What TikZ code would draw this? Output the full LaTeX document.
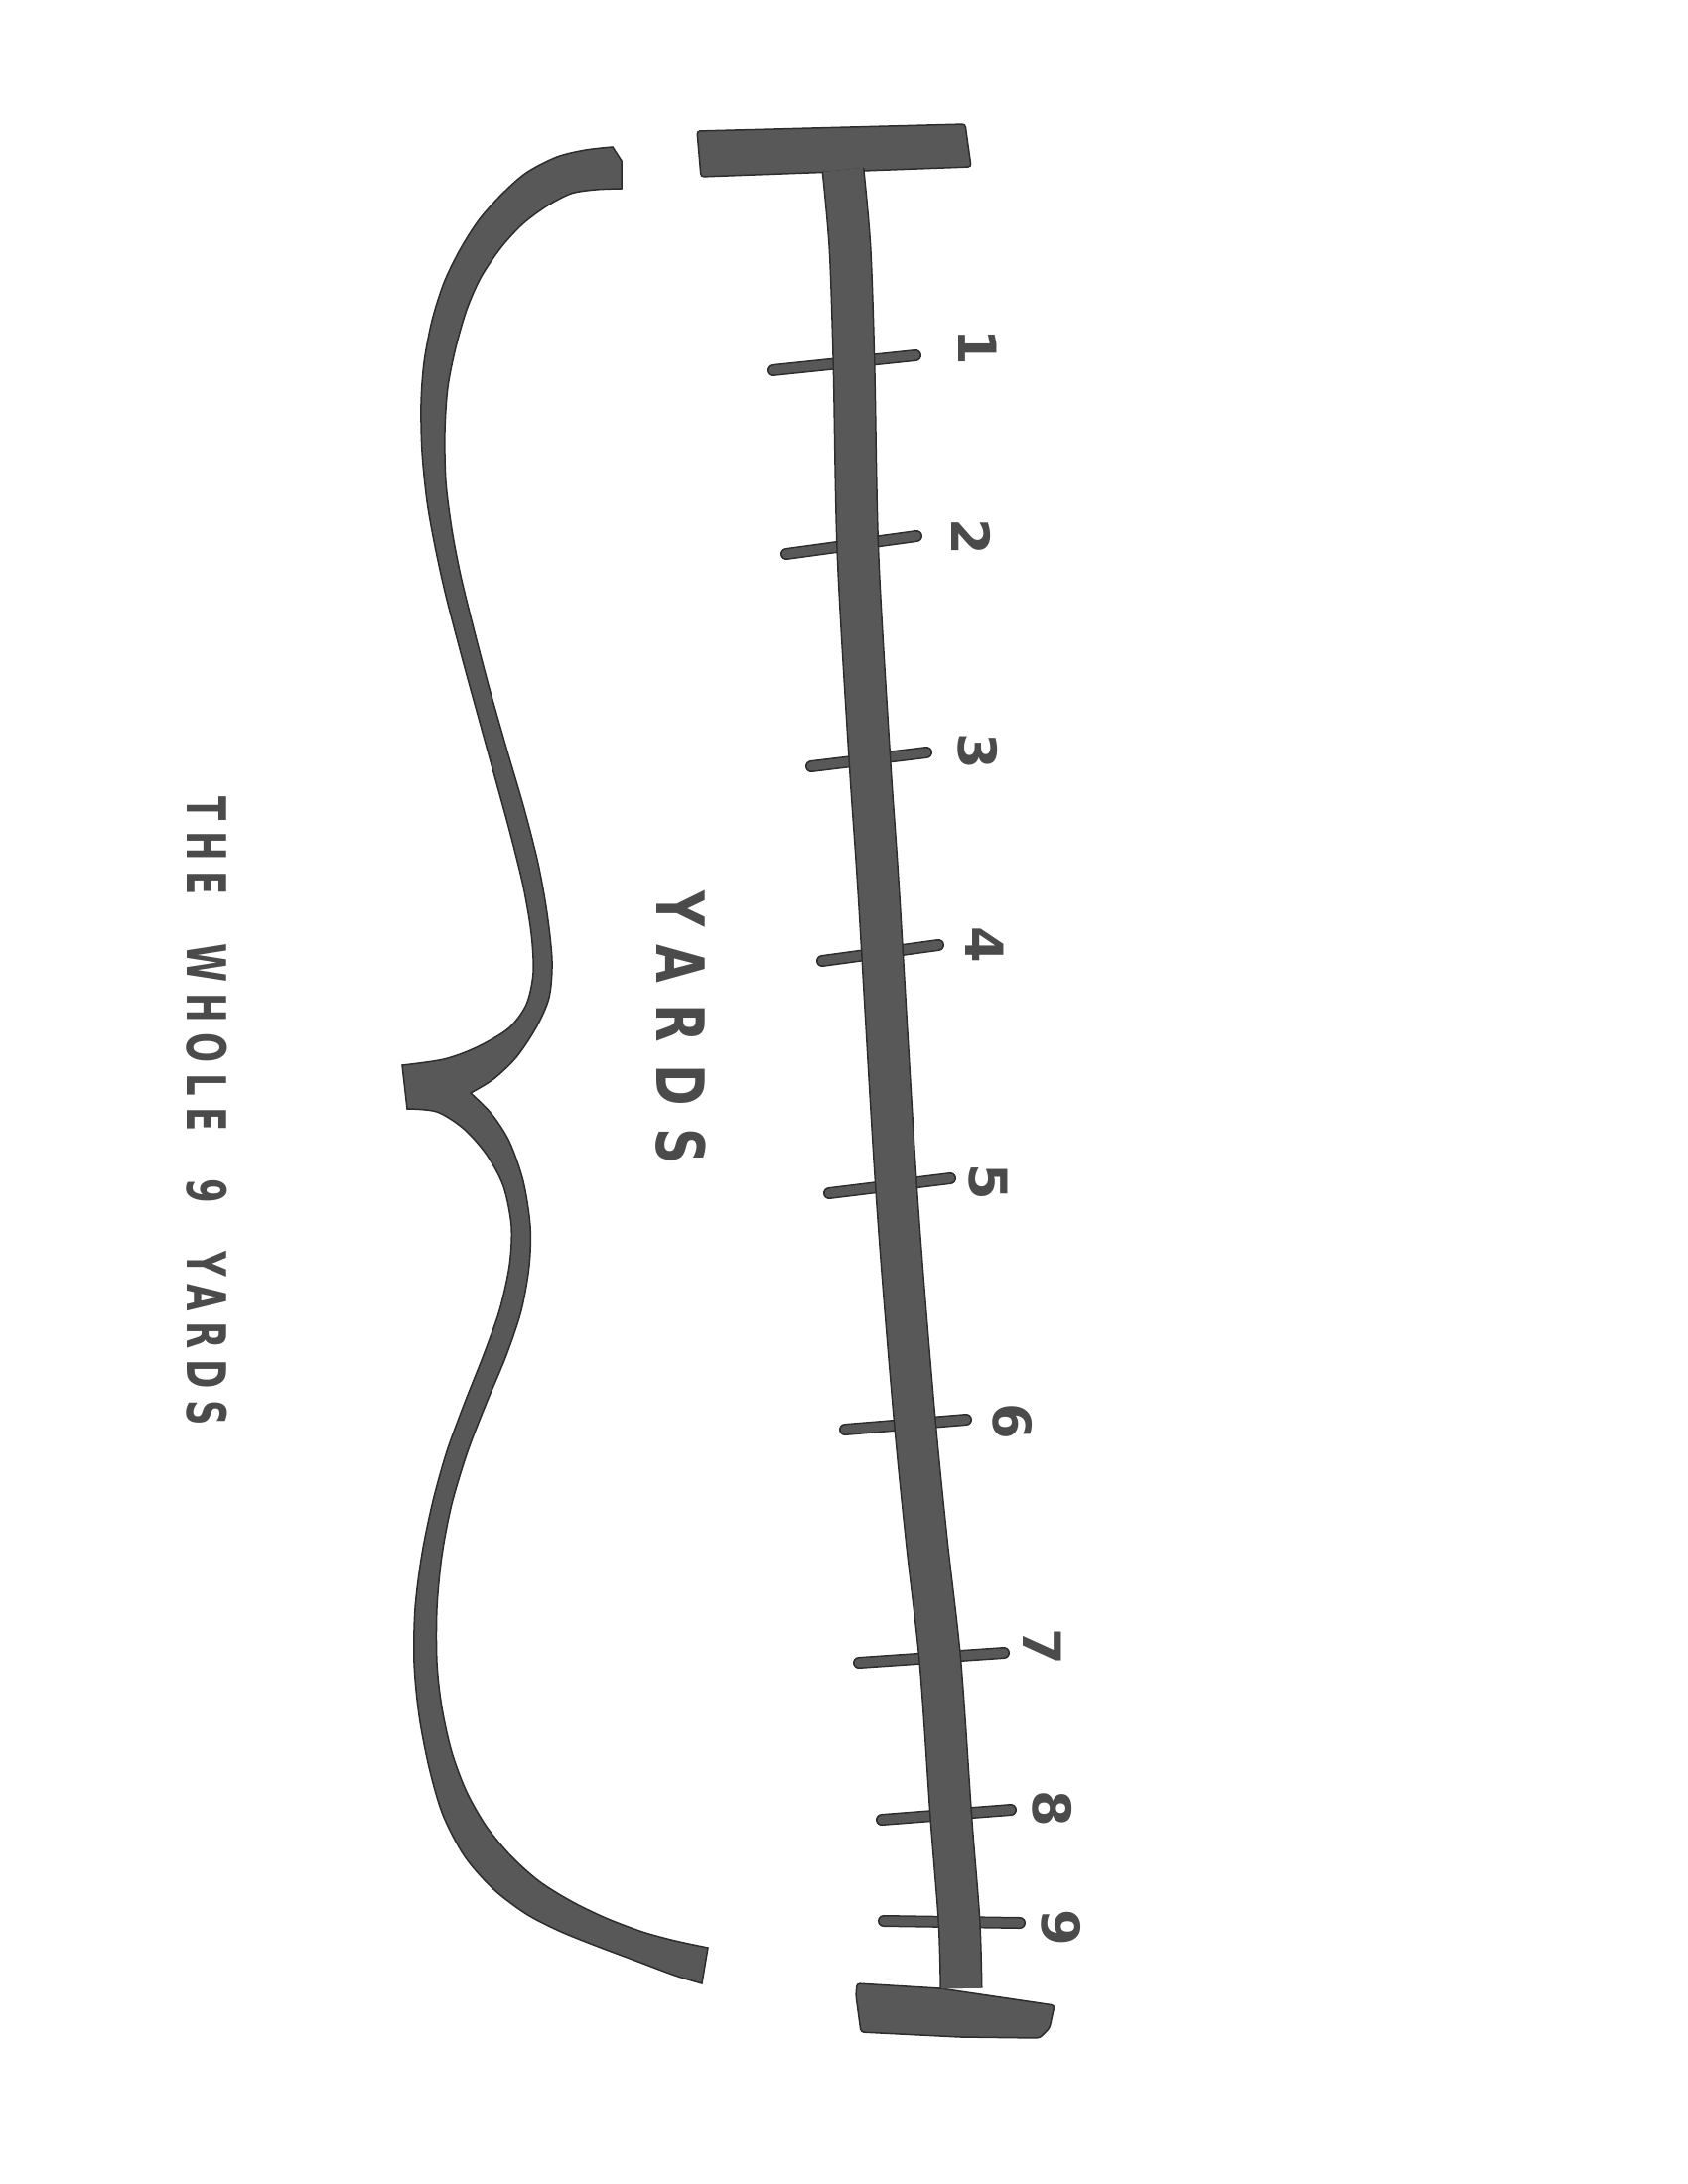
\documentclass[tikz,border=0pt]{standalone}
\usepackage{fontspec}
\newfontfamily\handfont{DejaVu Sans}
\newfontfamily\handnarrow[FakeStretch=0.75,LetterSpace=33]{DejaVu Sans}
\newfontfamily\handwide[FakeStretch=0.65,LetterSpace=20]{DejaVu Sans}
\newcommand{\gap}{\hspace{0.48cm}}
\definecolor{ink}{RGB}{88,88,88}
\definecolor{inkedge}{RGB}{45,45,45}
\tikzset{
  marker/.style={draw=inkedge, line width=0.015cm, double=ink, double distance=#1},
  tick/.style={marker=0.09cm, line cap=round},
  bar/.style={fill=ink, draw=inkedge, line width=0.015cm, rounded corners=0.03cm},
  digit/.style={font=\handfont\bfseries\fontsize{15pt}{18pt}\selectfont, text=ink!85!black, rotate=-90, inner sep=0pt},
  words/.style={font=\handnarrow\bfseries\fontsize{19pt}{22pt}\selectfont, text=ink!85!black, rotate=-90, inner sep=0pt},
  phrase/.style={font=\handwide\bfseries\fontsize{15.5pt}{18pt}\selectfont, text=ink!85!black, rotate=-90, inner sep=0pt}
}

\begin{document}
\begin{tikzpicture}[x=0.01cm, y=-0.01cm]
  \useasboundingbox (0,0) rectangle (1700,2200);

  \node[phrase] (whole) at (208,1119) {THE\gap WHOLE\gap 9\gap YARDS};
  \node[words] (yards) at (686,1035) {YARDS};

  \fill[ink, draw=inkedge, line width=0.015cm]
    plot[smooth] coordinates {(617,148) (590,151) (561,158) (530,174) (505,196) (482,222) (463,252) (447,285) (435,323) (427,365) (424,407) (425,455) (430,505) (438,550) (449,600) (466,665) (483,727) (499,785) (514,840) (527,893) (535,940) (537,980) (530,1012) (512,1036) (480,1055) (447,1067) (405,1073)}
    -- (410,1117)
    -- plot[smooth] coordinates {(410,1117) (440,1120) (467,1137) (490,1163) (507,1195) (515,1235) (513,1275) (503,1320) (487,1365) (468,1413) (450,1462) (436,1512) (425,1565) (418,1620) (417,1675) (422,1728) (432,1780) (446,1828) (468,1870) (497,1903) (530,1928) (563,1945) (600,1960) (640,1975) (680,1990) (707,1998)}
    -- (713,1962)
    -- plot[smooth] coordinates {(713,1962) (680,1955) (647,1946) (610,1932) (575,1915) (543,1895) (515,1870) (490,1840) (470,1805) (455,1765) (445,1720) (440,1675) (440,1620) (445,1567) (455,1515) (471,1462) (490,1413) (510,1365) (525,1320) (533,1275) (534,1235) (527,1190) (513,1150) (495,1122) (474,1101)}
    -- plot[smooth] coordinates {(474,1101) (497,1087) (520,1065) (540,1035) (553,1005) (556,968) (551,920) (542,870) (528,815) (511,757) (493,694) (477,633) (464,580) (455,533) (449,485) (448,435) (451,390) (459,350) (470,312) (484,280) (504,250) (526,226) (550,208) (575,195) (600,191) (626,190)}
    -- (626,162) -- cycle;

  \draw[tick] (778,373) -- (922,358);
  \draw[tick] (792,558) -- (923,540);
  \draw[tick] (817,772) -- (933,758);
  \draw[tick] (828,968) -- (945,952);
  \draw[tick] (835,1202) -- (957,1187);
  \draw[tick] (851,1440) -- (973,1430);
  \draw[tick] (865,1675) -- (1011,1665);
  \draw[tick] (888,1833) -- (1018,1823);
  \draw[tick] (890,1935) -- (1027,1937);

  \filldraw[bar] (702,132) -- (972,125) -- (978,168) -- (706,178) -- cycle;
  \filldraw[bar] (863,1998) -- (947,2003) -- (1062,2020) -- (1057,2043) -- (1047,2053) -- (967,2052) -- (867,2047) -- (862,2010) -- cycle;
  \draw[marker=0.40cm] plot[smooth] coordinates {(849,171) (856,250) (860,367) (864,558) (876,767) (885,900) (903,1202) (920,1417) (933,1550) (947,1675) (958,1833) (966,1935) (968,2003)};

  \node[digit] (one) at (985,350) {1};
  \node[digit] (two) at (978,541) {2};
  \node[digit] (three) at (985,757) {3};
  \node[digit] (four) at (992,952) {4};
  \node[digit] (five) at (995,1191) {5};
  \node[digit] (six) at (1020,1432) {6};
  \node[digit] (seven) at (1050,1659) {7};
  \node[digit] (eight) at (1060,1822) {8};
  \node[digit] (nine) at (1069,1942) {9};
\end{tikzpicture}
\end{document}
